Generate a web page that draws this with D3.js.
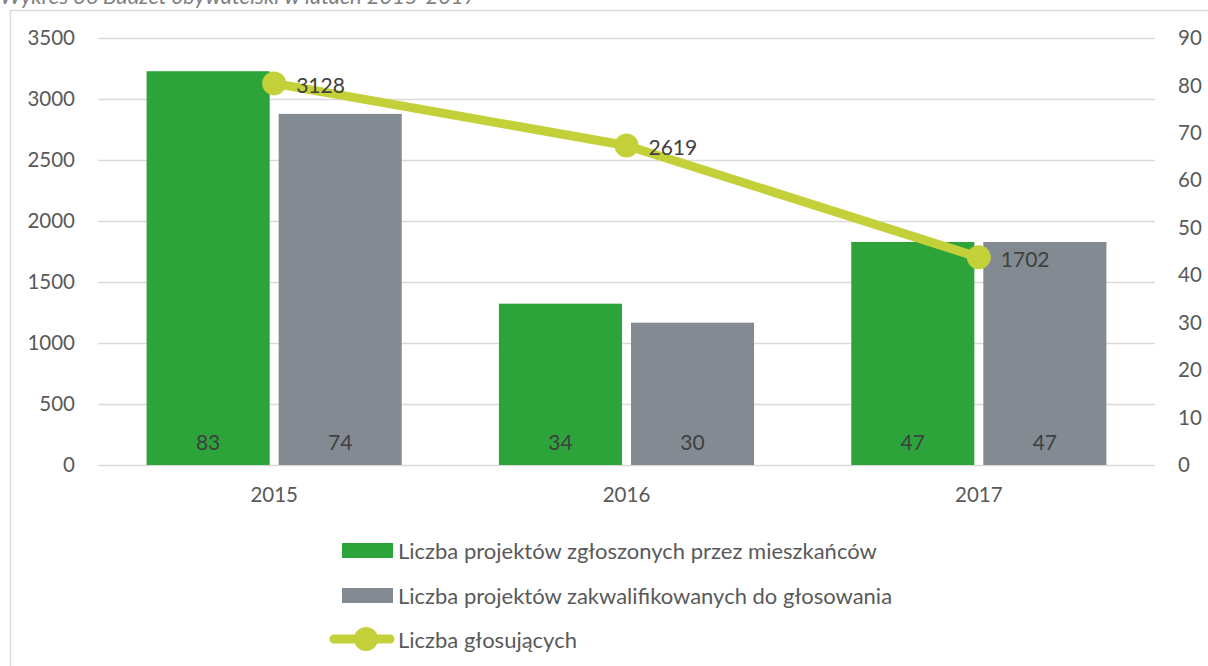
<!DOCTYPE html>
<html>
<head>
<meta charset="utf-8">
<script src="https://cdn.jsdelivr.net/npm/d3@7"></script>
<style>
  html, body { margin: 0; padding: 0; background: #fff; }
  svg { display: block; font-family: Lato, "Open Sans", sans-serif; }
</style>
</head>
<body>
<script>
(function(){
    'use strict'

    var years = ['2015', '2016', '2017'];
    var zgloszone = [83, 34, 47];
    var zakwalifikowane = [74, 30, 47];
    var glosujacy = [3128, 2619, 1702];
    var leftTicks = [0, 500, 1000, 1500, 2000, 2500, 3000, 3500];
    var rightTicks = [0, 10, 20, 30, 40, 50, 60, 70, 80, 90];
    var seriesNames = ['Liczba projektów zgłoszonych przez mieszkańców',
                       'Liczba projektów zakwalifikowanych do głosowania',
                       'Liczba głosujących'];
    var colors = ['#2ca43a', '#838a91', '#c3d03a'];

    var W = 1208, H = 666;
    var plot = {left: 98, right: 1155, top: 38, bottom: 465};

    var svg = d3.select('body').append('svg')
        .attr('width', W)
        .attr('height', H);

    // frame + title (cut off by the top edge, as in the source)
    svg.append('rect')
        .attr('x', 10.5).attr('y', 10.5)
        .attr('width', W).attr('height', H)
        .attr('fill', 'none')
        .attr('stroke', '#d9d9d9')
        .attr('stroke-width', 1.5);

    svg.append('text')
        .attr('x', 0).attr('y', 4)
        .attr('fill', '#7f7f7f')
        .attr('font-style', 'italic')
        .attr('font-size', 22)
        .text('Wykres 36 Budżet obywatelski w latach 2015-2017');

    var x = d3.scaleBand().domain(years).range([plot.left, plot.right]).padding(0);
    var xs = d3.scaleBand().domain([0, 1]).range([0, x.bandwidth()])
        .paddingInner(0.068).paddingOuter(0.368);
    var yL = d3.scaleLinear().domain([0, 3500]).range([plot.bottom, plot.top]);
    var yR = d3.scaleLinear().domain([0, 90]).range([plot.bottom, plot.top]);

    // gridlines
    svg.append('g').selectAll('line')
        .data(leftTicks).enter().append('line')
        .attr('x1', plot.left).attr('x2', plot.right)
        .attr('y1', function(d){ return Math.round(yL(d)) + 0.5; })
        .attr('y2', function(d){ return Math.round(yL(d)) + 0.5; })
        .attr('stroke', '#d9d9d9')
        .attr('stroke-width', 1.5);

    // axes
    var axL = svg.append('g')
        .attr('transform', 'translate(' + (plot.left - 23) + ',0)')
        .call(d3.axisLeft(yL).tickValues(leftTicks).tickFormat(d3.format('d'))
            .tickSize(0).tickPadding(0));
    var axR = svg.append('g')
        .attr('transform', 'translate(' + (plot.right + 23) + ',0)')
        .call(d3.axisRight(yR).tickValues(rightTicks).tickFormat(d3.format('d'))
            .tickSize(0).tickPadding(0));
    var axB = svg.append('g')
        .attr('transform', 'translate(0,' + (plot.bottom + 12) + ')')
        .call(d3.axisBottom(x).tickSize(0).tickPadding(0));

    [axL, axR, axB].forEach(function(a){
        a.select('.domain').remove();
        a.selectAll('text')
            .attr('fill', '#595959')
            .attr('font-size', 20.5)
            .attr('font-family', 'Lato, "Open Sans", sans-serif');
    });
    axB.selectAll('text').attr('dy', '1.2em');

    // bars (right axis)
    var barData = [];
    years.forEach(function(y, i){
        barData.push({year: y, s: 0, v: zgloszone[i]});
        barData.push({year: y, s: 1, v: zakwalifikowane[i]});
    });

    var bars = svg.append('g').selectAll('g')
        .data(barData).enter().append('g');

    bars.append('rect')
        .attr('x', function(d){ return x(d.year) + xs(d.s); })
        .attr('y', function(d){ return yR(d.v); })
        .attr('width', xs.bandwidth())
        .attr('height', function(d){ return plot.bottom - yR(d.v); })
        .attr('fill', function(d){ return colors[d.s]; });

    bars.append('text')
        .attr('x', function(d){ return x(d.year) + xs(d.s) + xs.bandwidth() / 2; })
        .attr('y', plot.bottom - 24)
        .attr('text-anchor', 'middle')
        .attr('dominant-baseline', 'central')
        .attr('fill', '#404040')
        .attr('font-size', 21)
        .text(function(d){ return d.v; });

    // line (left axis)
    var cx = function(d, i){ return x(years[i]) + x.bandwidth() / 2; };
    var line = d3.line()
        .x(cx)
        .y(function(d){ return yL(d); });

    svg.append('path')
        .datum(glosujacy)
        .attr('d', line)
        .attr('fill', 'none')
        .attr('stroke', colors[2])
        .attr('stroke-width', 9)
        .attr('stroke-linejoin', 'round');

    svg.append('g').selectAll('circle')
        .data(glosujacy).enter().append('circle')
        .attr('cx', cx)
        .attr('cy', function(d){ return yL(d); })
        .attr('r', 12)
        .attr('fill', colors[2]);

    svg.append('g').selectAll('text')
        .data(glosujacy).enter().append('text')
        .attr('x', function(d, i){ return cx(d, i) + 22; })
        .attr('y', function(d){ return yL(d) + 1; })
        .attr('dominant-baseline', 'central')
        .attr('fill', '#404040')
        .attr('font-size', 21)
        .text(function(d){ return d; });

    // legend
    var legY = [550, 595, 639];
    var leg = svg.append('g').selectAll('g')
        .data(seriesNames).enter().append('g')
        .attr('transform', function(d, i){ return 'translate(0,' + legY[i] + ')'; });

    leg.each(function(d, i){
        var g = d3.select(this);
        if (i < 2) {
            g.append('rect')
                .attr('x', 342).attr('y', -7)
                .attr('width', 51).attr('height', 15)
                .attr('fill', colors[i]);
        } else {
            g.append('line')
                .attr('x1', 334).attr('x2', 390)
                .attr('y1', 0).attr('y2', 0)
                .attr('stroke', colors[2])
                .attr('stroke-width', 9)
                .attr('stroke-linecap', 'round');
            g.append('circle')
                .attr('cx', 366).attr('cy', 0).attr('r', 12)
                .attr('fill', colors[2]);
        }
        g.append('text')
            .attr('x', 398).attr('y', 0)
            .attr('dominant-baseline', 'central')
            .attr('fill', '#595959')
            .attr('font-size', 22)
            .text(d);
    });

})();
</script>
</body>
</html>
